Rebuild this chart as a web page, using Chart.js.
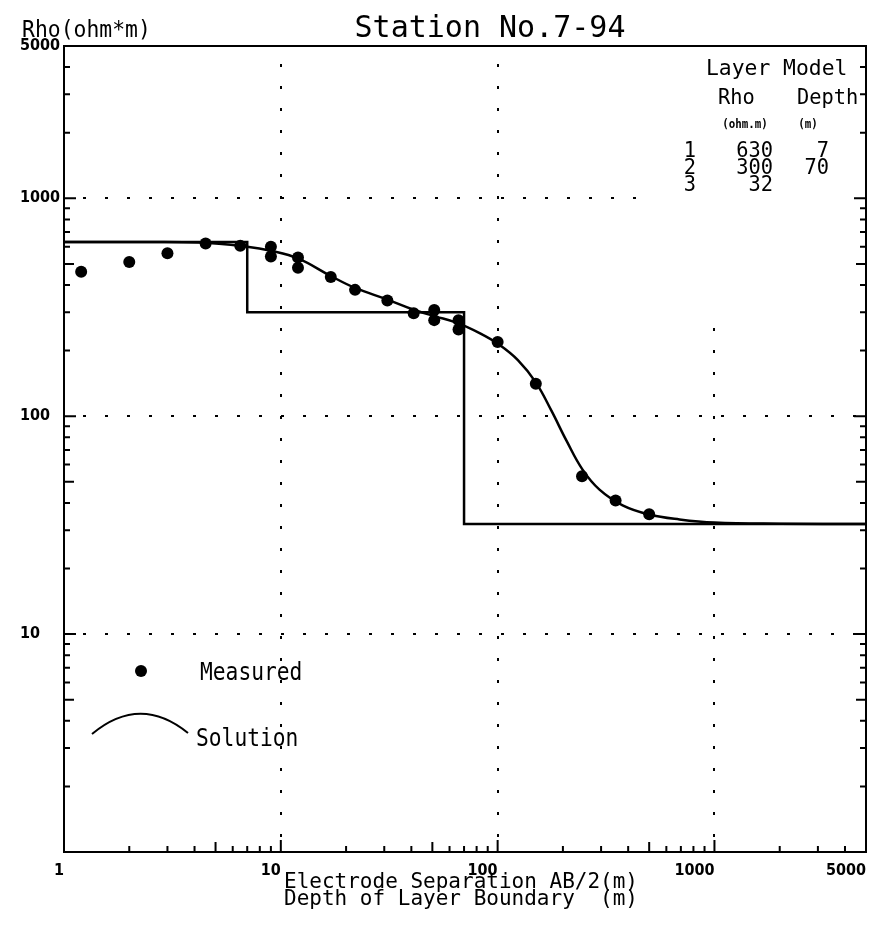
<!DOCTYPE html>
<html>
<head>
<meta charset="utf-8">
<title>Station No.7-94</title>
<script src="https://cdn.jsdelivr.net/npm/chart.js@4.4.1/dist/chart.umd.min.js"></script>
<style>
  html, body { margin: 0; padding: 0; background: #fff; }
  #wrap { width: 875px; height: 936px; }
</style>
</head>
<body>
<div id="wrap"><canvas id="vesChart" width="875" height="936"></canvas></div>
<script>
// measured apparent resistivity
const measuredAB  = [1.2, 2, 3, 4.5, 6.5, 9, 9, 12, 12, 17, 22, 31, 41, 51, 51, 66, 66, 100, 150, 245, 350, 500];
const measuredRho = [460, 510, 560, 620, 605, 600, 540, 535, 480, 435, 380, 340, 297, 307, 276, 276, 250, 219, 141, 53, 41, 35.5];

// computed solution curve
const solutionAB  = [1, 2, 4.2, 7, 9, 12, 17, 22, 31, 41, 51, 65, 83, 101, 124, 150, 177, 208, 246, 295, 377, 500, 690, 1000, 2000, 5000];
const solutionRho = [630, 630, 627, 600, 575, 530, 440, 388, 343, 308, 288, 268, 240, 214, 181, 143, 106, 77, 57, 46, 39, 35.4, 33.6, 32.5, 32.1, 32];

// layer model
const layerRho   = [630, 300, 32];
const layerDepth = [7, 70];

// axes
const xMin = 1, xMax = 5000, yMin = 1, yMax = 5000;
const xTickValues = [1, 10, 100, 1000, 5000];
const yTickValues = [10, 100, 1000, 5000];
const gridValues  = [10, 100, 1000];

// step line of the layer model, built from the layer arrays
const modelPoints = [];
let left = xMin;
layerRho.forEach(function (rho, i) {
    const right = i < layerDepth.length ? layerDepth[i] : xMax;
    modelPoints.push({x: left, y: rho}, {x: right, y: rho});
    left = right;
});

const MONO = "'DejaVu Sans Mono', 'Liberation Mono', monospace";
const TICK_FONT = {family: "'Liberation Sans Narrow', 'DejaVu Sans Condensed', 'Liberation Sans', sans-serif", size: 16, weight: 'bold'};

// draw text squeezed horizontally (plotter style lettering)
function plotText(ctx, str, x, y, size, sx, align, weight) {
    ctx.save();
    ctx.font = (weight || 'normal') + ' ' + size + 'px ' + MONO;
    ctx.textBaseline = 'alphabetic';
    ctx.textAlign = 'left';
    const w = ctx.measureText(str).width * sx;
    let x0 = x;
    if (align === 'center') x0 = x - w / 2;
    if (align === 'right') x0 = x - w;
    ctx.translate(x0, y);
    ctx.scale(sx, 1);
    ctx.fillStyle = '#000';
    ctx.fillText(str, 0, 0);
    ctx.restore();
}

const decorPlugin = {
    id: 'decor',
    beforeDatasetsDraw: function (chart) {
        // the layer table sits on a blank patch, grid dots stop around it
        const a = chart.chartArea;
        chart.ctx.save();
        chart.ctx.fillStyle = '#fff';
        chart.ctx.fillRect(645, a.top + 1, a.right - 646, 312 - a.top);
        chart.ctx.restore();
    },
    afterDraw: function (chart) {
        const ctx = chart.ctx;
        const a = chart.chartArea;
        const xs = chart.scales.x, ys = chart.scales.y;

        ctx.save();
        ctx.strokeStyle = '#000';
        ctx.lineWidth = 2;
        ctx.strokeRect(a.left, a.top, a.right - a.left, a.bottom - a.top);

        // inward tick marks on the left, right and bottom axes
        ctx.beginPath();
        [1, 10, 100, 1000].forEach(function (d) {
            for (let k = 1; k <= 9; k++) {
                const v = k * d;
                const len = k === 1 ? 12 : (k === 5 ? 10 : 6);
                if (v > yMin && v < yMax) {
                    const py = ys.getPixelForValue(v);
                    ctx.moveTo(a.left, py); ctx.lineTo(a.left + len, py);
                    ctx.moveTo(a.right, py); ctx.lineTo(a.right - len, py);
                }
                if (v > xMin && v < xMax) {
                    const px = xs.getPixelForValue(v);
                    ctx.moveTo(px, a.bottom); ctx.lineTo(px, a.bottom - len);
                }
            }
        });
        ctx.stroke();

        // titles
        plotText(ctx, 'Station No.7-94', 490, 37, 30, 1.0, 'center');
        plotText(ctx, 'Rho(ohm*m)', 22, 37, 23, 0.93, 'left');
        plotText(ctx, 'Electrode Separation AB/2(m)', 284, 888, 21, 1.0, 'left');
        plotText(ctx, 'Depth of Layer Boundary  (m)', 284, 905, 21, 1.0, 'left');

        // layer model table
        plotText(ctx, 'Layer Model', 706, 75, 22, 0.97, 'left');
        plotText(ctx, 'Rho', 718, 104, 21, 0.97, 'left');
        plotText(ctx, 'Depth', 797, 104, 21, 0.97, 'left');
        plotText(ctx, '(ohm.m)', 745, 128, 12, 0.9, 'center', 'bold');
        plotText(ctx, '(m)', 808, 128, 12, 0.9, 'center', 'bold');
        layerRho.forEach(function (rho, i) {
            const by = 157 + i * 17;
            plotText(ctx, String(i + 1), 696, by, 21, 0.97, 'right');
            plotText(ctx, String(rho), 773, by, 21, 0.97, 'right');
            if (i < layerDepth.length) plotText(ctx, String(layerDepth[i]), 829, by, 21, 0.97, 'right');
        });

        // legend
        ctx.fillStyle = '#000';
        ctx.beginPath();
        ctx.arc(141, 671, 6, 0, Math.PI * 2);
        ctx.fill();
        plotText(ctx, 'Measured', 200, 680, 25, 0.85, 'left');
        ctx.beginPath();
        ctx.moveTo(92, 734);
        ctx.quadraticCurveTo(140, 694, 188, 733);
        ctx.stroke();
        plotText(ctx, 'Solution', 196, 746, 25, 0.85, 'left');
        ctx.restore();
    }
};

function gridColor(c) {
    return (c.tick && gridValues.indexOf(c.tick.value) >= 0) ? '#000' : 'rgba(0,0,0,0)';
}

const canvas = document.getElementById('vesChart');
new Chart(canvas, {
    type: 'line',
    data: {
        datasets: [{
            label: 'Layer Model',
            data: modelPoints,
            borderColor: '#000',
            borderWidth: 2.5,
            pointRadius: 0,
            tension: 0,
            fill: false
        }, {
            label: 'Solution',
            data: solutionAB.map(function (x, i) { return {x: x, y: solutionRho[i]}; }),
            borderColor: '#000',
            borderWidth: 2.5,
            pointRadius: 0,
            tension: 0.4,
            fill: false
        }, {
            label: 'Measured',
            data: measuredAB.map(function (x, i) { return {x: x, y: measuredRho[i]}; }),
            showLine: false,
            pointRadius: 6,
            pointBorderWidth: 0,
            pointBackgroundColor: '#000',
            borderColor: '#000'
        }]
    },
    options: {
        responsive: false,
        animation: false,
        devicePixelRatio: 1,
        layout: {padding: {left: 20, right: 9, top: 46, bottom: 0}},
        plugins: {legend: {display: false}, tooltip: {enabled: false}, title: {display: false}},
        scales: {
            x: {
                type: 'logarithmic',
                min: xMin,
                max: xMax,
                afterBuildTicks: function (s) { s.ticks = xTickValues.map(function (v) { return {value: v}; }); },
                afterFit: function (s) { s.height = 84; },
                grid: {color: gridColor, lineWidth: 2, drawTicks: false},
                border: {display: true, color: '#000', width: 2, dash: [3, 19], dashOffset: 4},
                ticks: {
                    align: 'end',
                    padding: 9,
                    color: '#000',
                    font: TICK_FONT,
                    autoSkip: false,
                    maxRotation: 0,
                    callback: function (v) { return String(v); }
                }
            },
            y: {
                type: 'logarithmic',
                min: yMin,
                max: yMax,
                afterBuildTicks: function (s) { s.ticks = yTickValues.map(function (v) { return {value: v}; }); },
                afterFit: function (s) { s.width = 44; },
                grid: {color: gridColor, lineWidth: 2, drawTicks: false},
                border: {display: true, color: '#000', width: 2, dash: [3, 19], dashOffset: 4},
                ticks: {
                    crossAlign: 'far',
                    color: '#000',
                    font: TICK_FONT,
                    autoSkip: false,
                    callback: function (v) { return String(v); }
                }
            }
        }
    },
    plugins: [decorPlugin]
});
</script>
</body>
</html>
